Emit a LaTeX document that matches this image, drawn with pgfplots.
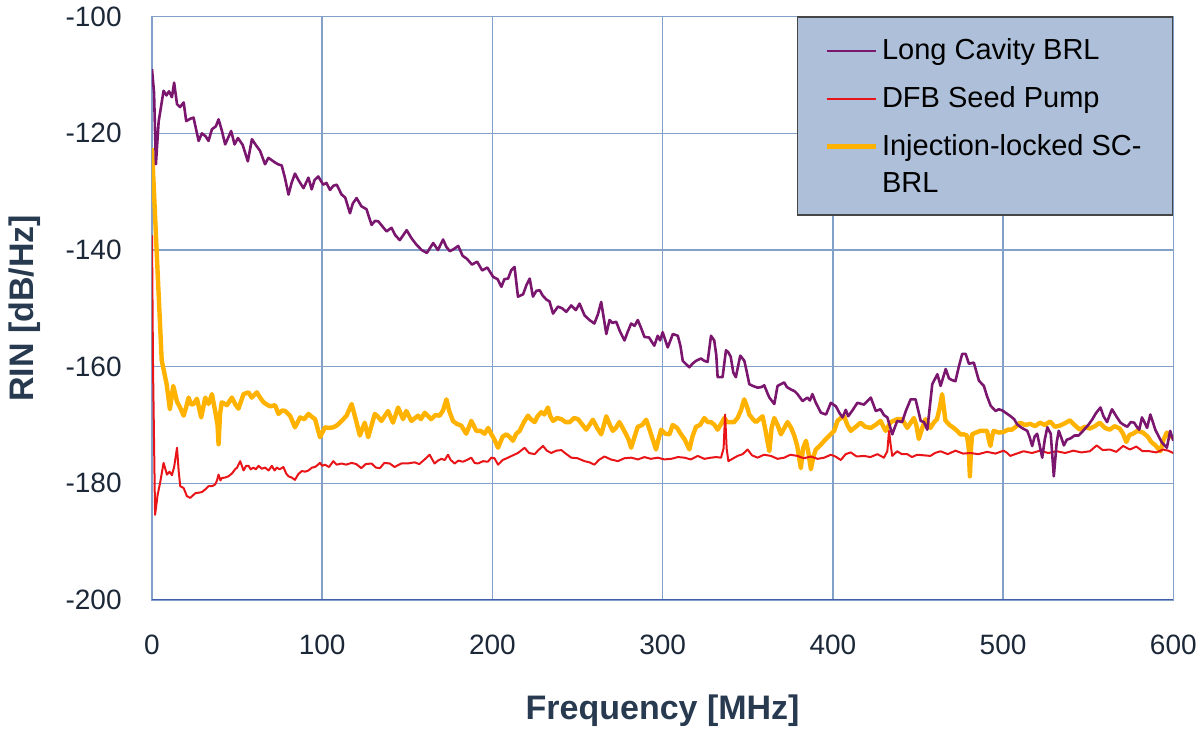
\documentclass[border=0pt]{standalone}
\usepackage{pgfplots}
\pgfplotsset{compat=1.18}
\usepackage{fontspec}
\setmainfont{Liberation Sans}
\definecolor{lcpurple}{RGB}{122,22,110}
\definecolor{dfbred}{RGB}{232,20,24}
\definecolor{ilorange}{RGB}{255,178,0}
\definecolor{gridc}{RGB}{130,160,200}
\definecolor{axisblue}{RGB}{66,96,170}
\definecolor{legfill}{RGB}{173,191,217}
\definecolor{legdraw}{RGB}{70,70,70}
\definecolor{tickc}{RGB}{28,40,56}
\definecolor{labc}{RGB}{40,58,80}
\begin{document}
\begin{tikzpicture}
\useasboundingbox (-76pt,-65.5pt) rectangle (524pt,300pt);
\begin{axis}[
  scale only axis,
  width=510.65pt, height=291.65pt,
  xmin=0, xmax=600, ymin=-200, ymax=-100,
  xtick={0,100,200,300,400,500,600},
  xticklabels={0,100,200,300,400,500,600},
  ytick={-200,-180,-160,-140,-120,-100},
  yticklabels={-200,-180,-160,-140,-120,-100},
  major tick length=0pt,
  grid=major,
  major grid style={color=gridc, line width=0.75pt},
  axis line style={color=gridc, line width=0.75pt},
  ticklabel style={font=\fontsize{14}{16}\selectfont, text=tickc, inner sep=0pt},
  xticklabel style={anchor=north, yshift=-17.5pt},
  yticklabel style={anchor=east, xshift=-15pt},
  xlabel={Frequency [MHz]},
  ylabel={RIN [dB/Hz]},
  every axis x label/.style={at={([yshift=-60pt]axis description cs:0.5,0)}, anchor=base, font=\fontsize{17}{20}\selectfont\bfseries, text=labc},
  every axis y label/.style={at={([xshift=-59pt]axis description cs:0,0.5)}, rotate=90, anchor=base, font=\fontsize{17}{20}\selectfont\bfseries, text=labc},
  legend style={at={(axis description cs:1,1.001)}, anchor=north east,
    fill=legfill, draw=legdraw, line width=0.75pt,
    inner xsep=13.5pt, inner ysep=9pt,
    column sep=0pt, row sep=8.15pt,
    font=\fontsize{14.5}{16.7}\selectfont,
    cells={anchor=base west, inner sep=0pt, text height=10.4pt, text depth=3pt}},
  legend image code/.code={\draw[#1] (0pt,4.5pt) -- (24.3pt,4.5pt);},
]
\addlegendimage{color=lcpurple, line width=1pt}
\addlegendentry{Long Cavity BRL}
\addlegendimage{color=dfbred, line width=1pt}
\addlegendentry{DFB Seed Pump}
\addlegendimage{color=ilorange, line width=2.5pt}
\addlegendentry{Injection-locked SC-}
\addlegendimage{empty legend}
\addlegendentry[text height=4.9pt, text depth=-1.2pt]{BRL}

% Injection-locked SC-BRL
\addplot[color=ilorange, line width=2.2pt, line join=round, forget plot] coordinates {
(0,-122.5) (2.7,-140) (5.7,-158.9) (8.6,-163) (10.5,-167.3) (12.5,-163.3) (14.7,-166) (16.5,-167) (18.6,-168.4) (20,-167) (21.5,-165.3) (23,-166.5)
(24.4,-166.4) (26.4,-165.5) (28.9,-168.7) (31.3,-165.3) (33.2,-166.4) (35.2,-164.7) (37.1,-167.6)
(38.5,-170) (39.1,-173.3) (40,-168) (41,-166.1) (44,-166.6) (46.9,-165.3) (49,-166.5) (50.8,-167.2)
(53.8,-164.7) (56.7,-164.4) (58.6,-165.3) (61.6,-164.4) (63.5,-165.3) (65.5,-166.1) (67.5,-166.5)
(69.4,-166.8) (72.3,-166.6) (74.3,-168.1) (76.5,-167.5) (78.2,-167.6) (81.1,-168.4) (84,-170.4)
(87,-168.7) (89.5,-169) (91.9,-168.1) (93.5,-168.5) (95.8,-169) (98.7,-172.1) (101.6,-170.4)
(104,-170.5) (106.5,-170.4) (109,-170) (111.4,-169.3) (114.3,-168.4) (117.3,-166.4) (120.2,-169.6)
(122.1,-171.8) (125,-169.6) (127,-172.1) (130.9,-168.1) (132.5,-168.5) (134.8,-169.3) (138.7,-167.6)
(141.6,-169.6) (144.6,-167) (147.5,-169) (149.4,-167.6) (152.4,-169.3) (156.3,-168.4) (158,-169)
(160.2,-167.9) (164,-169) (166.5,-168.3) (169,-168.4) (171,-167.5) (173,-165.6) (174.5,-167.5)
(176.8,-169.3) (179,-169.8) (181.7,-170.1) (184.6,-171.5) (187.6,-169.3) (190.5,-171) (193,-171)
(195.4,-171.5) (197.5,-170.5) (199.4,-171.6) (201,-172.4) (203.3,-173.9) (206,-172) (208.2,-171.6)
(210,-172) (212,-172.7) (214,-171.5) (216,-171) (218.5,-169.5) (220.9,-168.4) (222.5,-169)
(224.8,-169.5) (226.5,-168.5) (228.7,-167.8) (230.5,-168.2) (232.6,-167) (234,-168.5) (235.6,-169.3)
(238,-168.8) (240.5,-169) (243,-169.5) (245.4,-169.5) (248,-168.8) (250.3,-169) (253,-170)
(255.1,-170.8) (257,-170) (259,-169.1) (261.5,-170.5) (263.9,-171.6) (265.5,-170) (266.9,-168.5)
(269,-170) (270.7,-171) (272.5,-170.5) (274.6,-169.5) (276.5,-170.5) (278.5,-171.6) (280,-172.5)
(281.5,-173.9) (283.5,-172) (285.4,-170.3) (288,-170) (290.3,-169.1) (292,-170.5) (293.2,-171.6)
(296.1,-174.2) (297.5,-172.5) (299.1,-170.8) (301.5,-171.5) (304,-171.6) (305.9,-170) (308.5,-170.5)
(310.8,-171.6) (313,-172.5) (315.7,-174.2) (317.5,-172) (319.6,-170.3) (322,-170) (324.5,-168.8)
(326.5,-169.5) (328.4,-169.5) (330.5,-170) (332.3,-170.8) (334,-170) (336.2,-168.8) (338,-169.5)
(340.1,-169.5) (342,-169.5) (344,-168.8) (346,-167.5) (347.9,-165.6) (349.5,-166.8) (350.9,-168.2)
(353,-169) (354.8,-169.5) (356.8,-169) (358.7,-168.5) (360.5,-171) (361.7,-173) (362.7,-174.5)
(364,-170.5) (365.6,-168.8) (367.5,-170) (369.5,-171.6) (371.5,-170.5) (373.4,-169.5) (375.5,-170.5)
(377.3,-171.8) (379,-173.5) (381.2,-177.4) (382.5,-174) (384.2,-172.7) (385.5,-174.5) (387.1,-177.6)
(388.5,-175.5) (390,-174.2) (392.5,-173.5) (395,-172.7) (398,-171.8) (400.8,-171) (402.7,-169.3)
(404.7,-168.8) (406.6,-168.5) (408.5,-170) (410.5,-171) (413.5,-170.3) (416.3,-169.6) (419,-170.3)
(422.2,-170.5) (425,-170) (428,-169.3) (431,-171) (434,-169.5) (437.8,-169) (440.7,-169)
(443.7,-170.5) (447.6,-168.8) (449,-170) (450.5,-172.4) (452.5,-170.5) (454.4,-169) (457.3,-170.5)
(459.5,-169.5) (461.2,-169) (462.8,-167) (464.2,-164.7) (465.2,-167) (466.1,-169.2) (468.5,-170)
(471,-170.5) (473,-171) (474.9,-171.6) (476.8,-171.6) (478.8,-171.8) (479.8,-174) (480.5,-178.8)
(481.2,-174) (481.8,-171.6) (484,-171.3) (486.7,-171) (488.5,-171) (490.6,-171) (491.6,-172.5)
(492.6,-173.6) (493.5,-172) (494.5,-171) (497.5,-171.3) (500.3,-171.2) (502.8,-170.8) (505.2,-170.8)
(507.5,-170.3) (510,-169.6) (513,-170) (515.9,-169.8) (518.8,-170.2) (521.7,-169.6) (524.5,-170)
(527.6,-169.4) (530.5,-170.3) (533.4,-170.1) (536.3,-169.7) (539.3,-169.2) (542,-170) (545.1,-170.8)
(548,-170.3) (551,-170.6) (554,-170.2) (556.8,-169.6) (559.8,-170.5) (562.7,-170.8) (565.5,-170.2)
(568.5,-170.6) (570.5,-171.5) (572.4,-172.9) (574.3,-171.7) (576.3,-171.5) (579,-171) (582.2,-171.3)
(585,-172) (587,-172.9) (589.5,-173.5) (592.4,-174.5) (594.3,-172.5) (596.2,-171.3) (598,-172) (600,-172.1)
};

% DFB Seed Pump
\addplot[color=dfbred, line width=1pt, line join=round, forget plot] coordinates {
(0,-137.5) (0.6,-160) (1.8,-185.4) (3.3,-182) (4.9,-179.7) (6.8,-176.5) (8.8,-178.5) (10.3,-178)
(11.7,-178.6) (13,-177.2) (14.7,-173.9) (15.7,-178) (16.6,-180.5) (18.6,-180.8) (20.5,-182.2)
(22.5,-182.5) (25.4,-181.7) (27.5,-181.6) (29.3,-181.5) (31.5,-181) (33.2,-180.5) (35.2,-180.5)
(37.1,-180.2) (38.2,-179.5) (39.1,-178.5) (40.2,-179.5) (41,-179.1) (43,-179) (44.9,-178.8)
(47,-178.3) (48.8,-177.6) (50,-177.3) (51.8,-176.2) (53.8,-177.8) (55.3,-177) (56.7,-177)
(58,-177.6) (59.6,-177.3) (61,-177.6) (62.6,-177) (64.5,-177.5) (66.4,-177.3) (68.5,-177.8)
(70.4,-177) (72,-177.8) (73.3,-177.3) (75,-177.6) (77.2,-177.2) (78.8,-178.3) (80.2,-178.8)
(82,-179) (84,-179.4) (86,-178.4) (88,-177.9) (90,-178) (91.9,-177.8) (94,-177.3) (95.8,-177.2)
(97.5,-176.8) (98.7,-176.5) (100,-177) (101.6,-176.8) (104,-177.2) (106.5,-176.2) (108.5,-176.8)
(111.4,-176.6) (114,-176.8) (117.3,-176.5) (120,-176.7) (123,-177.4) (125.5,-176.7) (129,-176.6)
(131.5,-177.3) (133.9,-177.4) (136.5,-176.5) (139.7,-176.6) (142.5,-177.2) (146.5,-176.6)
(150,-176.6) (154.3,-176.4) (157,-176.7) (160.2,-175.9) (163.1,-175.1) (166,-176.6) (168,-176.1)
(170,-175.8) (172,-176) (173.9,-175.1) (175.5,-176) (177.8,-176.6) (180,-176.1) (182.6,-176.3)
(185,-176) (187.6,-175.6) (189.5,-176.5) (191.5,-176.6) (194.5,-176.2) (197.3,-176.3) (199.4,-175.6)
(201.2,-175.7) (203.3,-176.8) (206,-176) (209.2,-175.6) (212,-175.2) (215,-174.8) (218.9,-173.9)
(221.5,-174.8) (224.8,-175) (227,-174.3) (229.7,-173.6) (232,-174.4) (234.6,-174.8) (237.5,-174.4)
(240.5,-174.3) (243.5,-175) (246.3,-175.6) (250,-175.7) (254.1,-176.2) (257,-176.4) (259.9,-176.8)
(262.5,-176) (265.8,-175.4) (269.5,-175.9) (273.7,-176.2) (277.5,-175.7) (281.5,-175.6) (285.5,-175.9)
(289.3,-175.5) (293,-175.8) (297.1,-175.6) (301,-175.9) (305,-175.8) (309,-175.5) (312.8,-175.6)
(316.5,-175.9) (320.6,-175.3) (324.5,-175.8) (328.4,-175.6) (331.5,-175.5) (334.3,-175.6) (335.8,-174)
(336.7,-168.2) (337.6,-174) (338.6,-176.2) (341,-175.8) (344,-175.3) (347,-175) (349.9,-174.2)
(352.5,-175.2) (355.8,-175.6) (359.5,-175.1) (363.6,-175.3) (367.5,-175.8) (371.4,-175.6) (375,-175.1)
(379.2,-175.3) (383,-175.7) (387.1,-175.4) (391,-175.8) (394.9,-175.6) (398.8,-175.1) (401.5,-175.4)
(404.7,-176) (407.5,-175) (410.5,-174.7) (414,-175.4) (418.3,-175.3) (422,-175.5) (426.2,-175)
(430,-175.6) (432,-174.5) (433,-171) (434,-173.5) (434.9,-175.3) (437.8,-174.5) (440.5,-175)
(443.7,-175) (446.5,-175.5) (449.5,-175.1) (453.5,-175.2) (457.3,-175.3) (460,-174.8) (463.2,-174.5)
(467.5,-175) (472,-174.4) (476.5,-174.9) (480.8,-174.8) (485.5,-175) (490.6,-174.6) (495.5,-174.9)
(500.3,-174.4) (502.5,-174.8) (504.2,-175.3) (508,-174.9) (512,-174.5) (517,-174.8) (521.7,-174.4)
(526.5,-174.8) (531.5,-174.5) (536.5,-174.8) (541.3,-174.4) (546,-174.7) (551,-174.5) (555,-173.5)
(558.5,-174.3) (562.7,-174.2) (566.5,-174.6) (570.5,-173.6) (574.5,-174.2) (578.3,-173.7) (582,-174.5)
(586.1,-174.5) (590,-174.7) (594,-174.2) (597,-174.4) (600,-174.8)
};

% Long Cavity BRL
\addplot[color=lcpurple, line width=1.3pt, line join=round, forget plot] coordinates {
(0,-109) (1.2,-113) (2.3,-125.3) (3.9,-118) (6.8,-112.7) (8.5,-113.5) (10,-112.8) (11.7,-113.8)
(13,-111.3) (14.7,-115) (16.5,-115.5) (18.6,-114.7) (20.1,-117.9) (22.5,-117.5) (24.4,-117.3)
(27.4,-121.3) (29.3,-120) (31.5,-120.5) (33.2,-121.3) (35.2,-119.3) (37.5,-118.8) (39.1,-117.6)
(41,-119.5) (43,-121.9) (46.5,-119.6) (48.5,-121.9) (50.5,-120.8) (53.3,-122) (56.3,-124.8)
(58.7,-121) (61,-122) (63.5,-123) (66.4,-125.3) (68.4,-124.2) (72.3,-125) (74,-125.3) (76.2,-125.5)
(78,-127.5) (80.2,-130.5) (82,-128.5) (84,-126.9) (86,-128) (89,-129.4) (91.9,-127.6) (93.8,-129.6)
(95.5,-128) (97.7,-127.4) (100.6,-128.8) (102.5,-128.5) (104.6,-129.7) (106.5,-129) (108.5,-128.8)
(111.4,-130.5) (113.5,-131) (116.3,-133.7) (118,-132) (120.2,-131.1) (123,-132.5) (126,-133)
(129,-135.7) (131,-135) (133,-135.1) (135.5,-136) (137.8,-136.8) (140.7,-136.2) (143,-137.5)
(145.6,-138.3) (147.5,-137.5) (149.6,-136.6) (152.5,-138) (155.4,-139.1) (158.4,-140) (161.5,-140.5)
(165.2,-138.8) (168,-140) (171,-138.2) (173,-139.5) (175,-140.2) (177.5,-139.8) (179.9,-139.3)
(182.5,-141) (185,-141.5) (188,-142.5) (191,-142) (194,-143.5) (197,-143) (200.4,-144.6) (203,-145)
(205.3,-146.3) (207,-145) (209.2,-144.9) (211,-143.5) (213,-142.9) (215,-148) (218,-147.6) (220,-146)
(221.9,-144.9) (223.8,-148) (225.8,-147) (227.8,-146.9) (229.5,-147.8) (231.7,-148.5) (233.5,-148.8)
(235.6,-150.9) (238.5,-149.7) (241,-150) (243.4,-150.6) (246.3,-149.5) (249,-150.3) (251.2,-149.2)
(254.1,-151.2) (257,-152) (259.9,-152.6) (262,-151) (263.9,-148.9) (266.9,-154.4) (268.8,-152)
(270.5,-152.5) (272.7,-152.3) (275,-154) (277.6,-155.5) (279.5,-154) (281.5,-152.6) (283.5,-153)
(285.4,-152) (287.5,-153.5) (289.3,-154.9) (292,-155) (295.1,-156.4) (297.1,-154.7) (298.5,-155.5)
(300,-154.1) (303,-156.7) (306,-154.4) (308.9,-154.7) (310.5,-156.5) (311.8,-159) (313.5,-159.5)
(315.7,-160.1) (317.5,-159.5) (319.6,-159) (322.5,-158.6) (324.5,-159) (326.4,-159.2) (328.4,-154.7)
(330.3,-155.5) (331.5,-158) (332.3,-161.8) (335.2,-161.8) (337.2,-157.2) (338.5,-157.5) (340,-158.3)
(341.5,-161) (343,-161.8) (345.6,-158.1) (348,-159) (349.5,-161) (350.9,-163) (353,-163.3)
(355.8,-163.6) (358,-163.5) (359.7,-163.2) (361.5,-164.5) (362.7,-165.3) (365.6,-166.4) (367.5,-163.3)
(369.5,-163) (371.4,-162.7) (373,-163.5) (375.3,-163.9) (377.5,-164.2) (379.2,-164.7) (382.2,-165.9)
(385,-165.3) (386.5,-165.8) (388,-164.7) (390,-166.2) (393,-167.9) (396,-168.2) (398.8,-166.2)
(401.8,-166.8) (404,-168) (405.7,-168.7) (407.6,-167.4) (409,-168.5) (411.5,-167.5) (414.4,-166.2)
(418.3,-166.5) (422.3,-165.3) (425.2,-167.6) (428,-167.3) (430,-168.3) (432,-168.7) (434.9,-171.6)
(437.8,-169.3) (440.7,-169.5) (443,-167.5) (445.7,-165.6) (448.6,-165.6) (451.6,-169.3) (453.5,-169.5)
(455.5,-170.8) (458.4,-163) (461.4,-161.3) (463.3,-163.3) (466.3,-160.4) (468.2,-162) (470,-162.3)
(472,-162.5) (474,-160) (476,-157.8) (478,-157.8) (479.9,-159.5) (482.8,-159.3) (485.8,-162.4)
(488.7,-163.3) (490.5,-165) (492.7,-166.7) (495.6,-167.6) (497.5,-167.3) (499.5,-167.5) (502,-168)
(504.4,-168.5) (506.5,-169) (508.3,-169.9) (511,-170.5) (514.2,-171) (515.5,-172) (517.1,-173.6)
(518.5,-172) (520,-171.5) (521.5,-173.5) (523,-175.6) (524.5,-172.5) (526,-170.4) (528,-171.5)
(529.8,-178.8) (531.5,-173) (532.7,-171) (534,-172) (535.7,-173.5) (537.5,-172.5) (539.6,-172.3)
(542,-171.8) (544.4,-171.8) (547,-171) (550.3,-169.9) (552.5,-169) (554.5,-168) (557.2,-167)
(559,-168.5) (561.1,-169.5) (563,-168) (564,-167.3) (566.5,-168.5) (569,-169.6) (571,-170)
(573,-170.3) (575,-169.5) (577,-169.6) (579,-170.5) (580,-170.8) (581.6,-168.7) (583,-169.5)
(584.6,-170.5) (586.5,-168.2) (588,-169.5) (589.4,-170.8) (591.5,-172) (593.3,-173) (596.2,-173.9)
(598.2,-171) (600,-172.7)
};
\draw[color=axisblue, line width=1pt] (rel axis cs:0,0) -- (rel axis cs:1,0);
\end{axis}
\end{tikzpicture}
\end{document}
